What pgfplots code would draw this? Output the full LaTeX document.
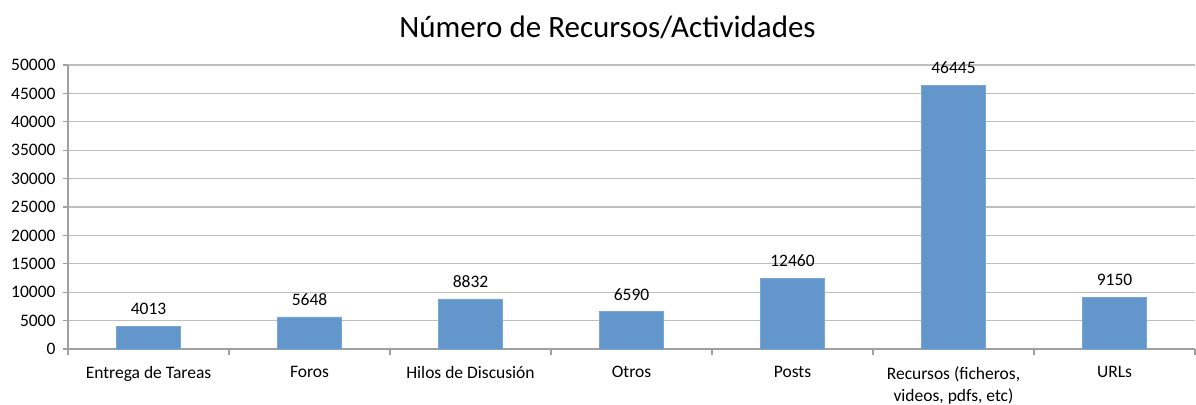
\documentclass[border=0pt]{standalone}
\usepackage{pgfplots}
\pgfplotsset{compat=1.18}
\usepackage{fontspec}
\setmainfont{Carlito}
\definecolor{barblue}{RGB}{99,150,202}
\definecolor{gridgray}{RGB}{190,190,190}
\definecolor{axgray}{RGB}{160,160,160}
\begin{document}
\begin{tikzpicture}
\begin{axis}[
  scale only axis, width=1127bp, height=284bp,
  xmin=-0.5, xmax=6.5, ymin=0, ymax=50000,
  axis x line*=bottom, axis y line*=left,
  axis line style={axgray, line width=1.2bp, -},
  ybar, bar width=64bp,
  bar shift=0pt,
  ytick={0,5000,...,50000},
  scaled y ticks=false,
  yticklabel style={xshift=-4bp, font=\fontsize{17.5bp}{20bp}\selectfont, /pgf/number format/.cd, 1000 sep={}, fixed, assume math mode=true},
  ymajorgrids, grid style={gridgray, line width=1.3bp},
  xtick={0,...,6},
  xticklabels={Entrega de Tareas, Foros, Hilos de Discusión, Otros, Posts, {Recursos (ficheros,\\ videos, pdfs, etc)}, URLs},
  xticklabel style={font=\fontsize{17.5bp}{22bp}\selectfont, align=center, yshift=-9bp},
  minor xtick={-0.5,0.5,...,6.5},
  major x tick style={draw=none},
  minor x tick style={axgray, line width=1.2bp},
  major y tick style={axgray, line width=1.2bp},
  tick align=outside,
  major tick length=5bp, minor tick length=6bp,
  nodes near coords,
  nodes near coords style={font=\fontsize{17.5bp}{20bp}\selectfont, inner sep=0pt, yshift=11bp, /pgf/number format/.cd, 1000 sep={}, fixed, assume math mode=true},
  title={Número de Recursos/Actividades},
  title style={font=\fontsize{31bp}{36bp}\selectfont, yshift=17bp, xshift=-24bp},
  clip=false,
]
\addplot[fill=barblue, draw=barblue!85!white] coordinates {
  (0,4013) (1,5648) (2,8832) (3,6590) (4,12460) (5,46445) (6,9150)
};
\coordinate (bl) at (rel axis cs:0,0);
\coordinate (tr) at (rel axis cs:1,1);
\end{axis}
\pgfresetboundingbox
\path (bl) ++(-68bp,-55bp) coordinate (A);
\path (tr) ++(1bp,65bp) coordinate (B);
\useasboundingbox (A) rectangle (B);
\end{tikzpicture}
\end{document}
